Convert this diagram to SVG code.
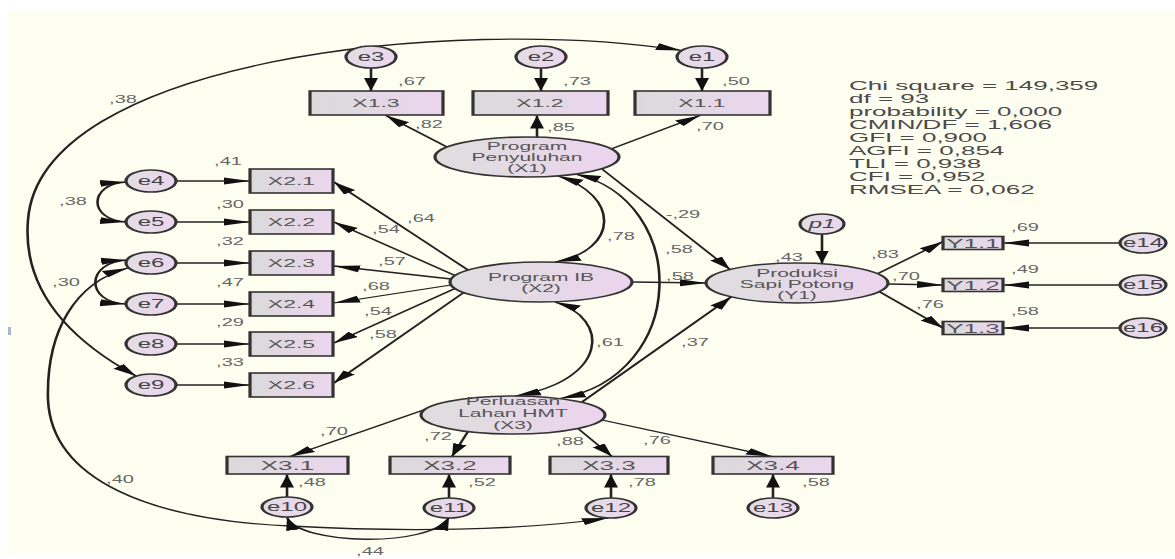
<svg xmlns="http://www.w3.org/2000/svg" width="1175" height="559" viewBox="0 0 1175 559">
<style>
text{font-family:"Liberation Sans",Arial,sans-serif}
.box{fill:url(#gBox);stroke:#333;stroke-width:1.6}
.lat{fill:url(#gLat);stroke:#333;stroke-width:1.6}
.err{fill:url(#gErr);stroke:#333;stroke-width:1.6}
.c{fill:none;stroke:#222;stroke-width:1.3}
.a{marker-end:url(#ah)}
.b{marker-start:url(#ah);marker-end:url(#ah)}
.nt{font-size:10.5px;fill:#555;text-anchor:middle}
.bt{font-size:11.5px;fill:#555;text-anchor:middle}
.bt2{font-size:13px;fill:#555;text-anchor:middle}
.et{font-size:12px;fill:#444;text-anchor:middle}
.lbl{font-size:10px;fill:#666;text-anchor:middle}
.st{font-size:13px;fill:#4a4a4a}
</style>
<defs>
<linearGradient id="gBox" x1="0" y1="0" x2="1" y2="0"><stop offset="0" stop-color="#dadada"/><stop offset="1" stop-color="#ecd6ee"/></linearGradient>
<linearGradient id="gLat" x1="0" y1="0" x2="1" y2="0"><stop offset="0" stop-color="#dedede"/><stop offset="1" stop-color="#ecd4ee"/></linearGradient>
<linearGradient id="gErr" x1="0" y1="0" x2="1" y2="0"><stop offset="0" stop-color="#e2dde4"/><stop offset="1" stop-color="#ecd6ee"/></linearGradient>
<marker id="ah" markerUnits="userSpaceOnUse" markerWidth="13" markerHeight="8" refX="13" refY="3.5" orient="auto-start-reverse" viewBox="0 0 13 7"><path d="M0,0 L13,3.5 L0,7 z" fill="#111"/></marker>
</defs>
<rect x="8" y="11" width="1167" height="542" fill="#fefef0"/>
<rect x="8" y="327" width="3" height="8" fill="#a8b8d0"/>
<g transform="scale(2,1)">
<g id="connectors">
<path class="c a" d="M185.5,68 V91"/>
<path class="c a" d="M270.5,68 V91"/>
<path class="c a" d="M351,68 V91"/>
<path class="c a" d="M223.5,147 L193,115.5"/>
<path class="c a" d="M268.5,137.5 V115.5"/>
<path class="c a" d="M305.5,149 L350,115.5"/>
<path class="c a" d="M234,270 L167,182"/>
<path class="c a" d="M227.5,275.5 L167,222"/>
<path class="c a" d="M225.5,279 L167,266"/>
<path class="c a" d="M225.5,285 L167,303"/>
<path class="c a" d="M227.5,288.5 L167,343"/>
<path class="c a" d="M232.5,291.6 L167,383"/>
<path class="c a" d="M88,181 H125"/>
<path class="c a" d="M88,222 H125"/>
<path class="c a" d="M88,263 H125"/>
<path class="c a" d="M88,304 H125"/>
<path class="c a" d="M88,344 H125"/>
<path class="c a" d="M88,385 H125"/>
<path class="c b" d="M63,182 C 44,184 44,220 63,222"/>
<path class="c b" d="M63.5,260 C 43,262 42,302 63,304"/>
<path class="c b" d="M341,50.5 C 225,15 20,60 14,220 C 11,290 35,340 68,376"/>
<path class="c b" d="M64,268 C 38,282 23,330 24,400 C 26,480 75,520 145,526 C 200,532 260,531 304,518"/>
<path class="c b" d="M143.5,517.5 C 150,545 215,548 224.5,517.5"/>
<path class="c b" d="M279,176 C 310,195 310,250 277.5,262"/>
<path class="c b" d="M287.5,174 C 345,200 345,375 280,398.5"/>
<path class="c b" d="M277.5,302 C 305,318 305,380 257.5,396"/>
<path class="c a" d="M301,169 L365,269.5"/>
<path class="c a" d="M316,282 L353,283"/>
<path class="c a" d="M291,402 L365.5,297"/>
<path class="c a" d="M411,234 L411,263.5"/>
<path class="c a" d="M439,273.5 L471.5,241.5"/>
<path class="c a" d="M444,284 L471.5,285"/>
<path class="c a" d="M440,292 L471.5,328"/>
<path class="c a" d="M560,243 L501.5,243"/>
<path class="c a" d="M560,285 L501.5,285"/>
<path class="c a" d="M560,328 L501.5,328"/>
<path class="c a" d="M143.5,497 V474.5"/>
<path class="c a" d="M224.5,498 V474.5"/>
<path class="c a" d="M305.5,498 V474.5"/>
<path class="c a" d="M386.5,498 V474.5"/>
<path class="c a" d="M212.5,409.5 L145,456.5"/>
<path class="c a" d="M234,431.5 L226,456.5"/>
<path class="c a" d="M289,428.5 L306,456.5"/>
<path class="c a" d="M301,420 L386,456.5"/>
</g>
<g id="e3"><ellipse class="err" cx="185.5" cy="57" rx="12.5" ry="11"/><text class="et" x="185.5" y="61.5">e3</text></g>
<g id="e2"><ellipse class="err" cx="270.5" cy="57" rx="12.5" ry="11"/><text class="et" x="270.5" y="61.5">e2</text></g>
<g id="e1"><ellipse class="err" cx="351" cy="57" rx="12.5" ry="11"/><text class="et" x="351" y="61.5">e1</text></g>
<g id="X1.3"><rect class="box" x="155" y="91" width="66.5" height="24"/><text class="bt" x="188" y="107">X1.3</text></g>
<g id="X1.2"><rect class="box" x="236.5" y="91" width="67.5" height="24"/><text class="bt" x="270" y="107">X1.2</text></g>
<g id="X1.1"><rect class="box" x="317.5" y="91" width="67.5" height="24"/><text class="bt" x="351" y="107">X1.1</text></g>
<g id="X1"><ellipse class="lat" cx="263.5" cy="157" rx="46" ry="20"/><text class="nt" x="263.5" y="150.5">Program</text><text class="nt" x="263.5" y="161.5">Penyuluhan</text><text class="nt" x="263.5" y="172">(X1)</text></g>
<g id="X2"><ellipse class="lat" cx="270.5" cy="282" rx="45.5" ry="20"/><text class="nt" x="270.5" y="281">Program IB</text><text class="nt" x="270.5" y="292">(X2)</text></g>
<g id="Y1"><ellipse class="lat" cx="398.5" cy="283" rx="45.5" ry="20"/><text class="nt" x="398.5" y="277">Produksi</text><text class="nt" x="398.5" y="288">Sapi Potong</text><text class="nt" x="398.5" y="299">(Y1)</text></g>
<g id="X3"><ellipse class="lat" cx="256.5" cy="415" rx="46" ry="19"/><text class="nt" x="256.5" y="405.5">Perluasan</text><text class="nt" x="256.5" y="417.5">Lahan HMT</text><text class="nt" x="256.5" y="429">(X3)</text></g>
<g id="p1"><ellipse class="err" cx="411" cy="224" rx="11" ry="10"/><text class="et" x="411" y="228.5" font-style="italic">p1</text></g>
<g id="e4"><ellipse class="err" cx="75.5" cy="181" rx="12.5" ry="11"/><text class="et" x="75.5" y="185.5">e4</text></g>
<g id="e5"><ellipse class="err" cx="75.5" cy="222" rx="12.5" ry="11"/><text class="et" x="75.5" y="226.5">e5</text></g>
<g id="e6"><ellipse class="err" cx="75.5" cy="263" rx="12.5" ry="11"/><text class="et" x="75.5" y="267.5">e6</text></g>
<g id="e7"><ellipse class="err" cx="75.5" cy="304" rx="12.5" ry="11"/><text class="et" x="75.5" y="308.5">e7</text></g>
<g id="e8"><ellipse class="err" cx="75.5" cy="344" rx="12.5" ry="11"/><text class="et" x="75.5" y="348.5">e8</text></g>
<g id="e9"><ellipse class="err" cx="75.5" cy="385" rx="12.5" ry="11"/><text class="et" x="75.5" y="389.5">e9</text></g>
<g id="X2.1"><rect class="box" x="125" y="169" width="41.5" height="24"/><text class="bt" x="145.75" y="185">X2.1</text></g>
<g id="X2.2"><rect class="box" x="125" y="210" width="41.5" height="24"/><text class="bt" x="145.75" y="226">X2.2</text></g>
<g id="X2.3"><rect class="box" x="125" y="251" width="41.5" height="24"/><text class="bt" x="145.75" y="267">X2.3</text></g>
<g id="X2.4"><rect class="box" x="125" y="292" width="41.5" height="24"/><text class="bt" x="145.75" y="308">X2.4</text></g>
<g id="X2.5"><rect class="box" x="125" y="332" width="41.5" height="24"/><text class="bt" x="145.75" y="348">X2.5</text></g>
<g id="X2.6"><rect class="box" x="125" y="373" width="41.5" height="24"/><text class="bt" x="145.75" y="389.5" font-size="12.5px">X2.6</text></g>
<g id="X3.1"><rect class="box" x="113.5" y="456.5" width="60.5" height="17.5"/><text class="bt2" x="143.75" y="470">X3.1</text></g>
<g id="X3.2"><rect class="box" x="195" y="456.5" width="60" height="17.5"/><text class="bt2" x="225" y="470">X3.2</text></g>
<g id="X3.3"><rect class="box" x="275" y="456.5" width="59" height="17.5"/><text class="bt2" x="304.5" y="470">X3.3</text></g>
<g id="X3.4"><rect class="box" x="356.5" y="456.5" width="60" height="17.5"/><text class="bt2" x="386.5" y="470">X3.4</text></g>
<g id="e10"><ellipse class="err" cx="143.5" cy="507" rx="12.5" ry="10"/><text class="et" x="143.5" y="511.5">e10</text></g>
<g id="e11"><ellipse class="err" cx="224.5" cy="508" rx="12.5" ry="10"/><text class="et" x="224.5" y="512.5">e11</text></g>
<g id="e12"><ellipse class="err" cx="305.5" cy="508" rx="12.5" ry="10"/><text class="et" x="305.5" y="512.5">e12</text></g>
<g id="e13"><ellipse class="err" cx="386.5" cy="508" rx="12.5" ry="10"/><text class="et" x="386.5" y="512.5">e13</text></g>
<g id="Y1.1"><rect class="box" x="471.5" y="236.5" width="30" height="13"/><text class="bt2" x="486.5" y="248">Y1.1</text></g>
<g id="Y1.2"><rect class="box" x="471.5" y="278.5" width="30" height="13"/><text class="bt2" x="486.5" y="290">Y1.2</text></g>
<g id="Y1.3"><rect class="box" x="471.5" y="321.5" width="30" height="13"/><text class="bt2" x="486.5" y="333">Y1.3</text></g>
<g id="e14"><ellipse class="err" cx="571.5" cy="243" rx="11.5" ry="10"/><text class="et" x="571.5" y="247.5">e14</text></g>
<g id="e15"><ellipse class="err" cx="571.5" cy="285" rx="11.5" ry="10"/><text class="et" x="571.5" y="289.5">e15</text></g>
<g id="e16"><ellipse class="err" cx="571.5" cy="328" rx="11.5" ry="10"/><text class="et" x="571.5" y="332.5">e16</text></g>
<g id="labels">
<text class="lbl" x="61.5" y="103.5">,38</text>
<text class="lbl" x="36.5" y="205.5">,38</text>
<text class="lbl" x="33" y="286.5">,30</text>
<text class="lbl" x="60" y="483.5">,40</text>
<text class="lbl" x="185" y="555">,44</text>
<text class="lbl" x="114" y="165.5">,41</text>
<text class="lbl" x="115" y="208.5">,30</text>
<text class="lbl" x="115" y="245.5">,32</text>
<text class="lbl" x="115" y="286.5">,47</text>
<text class="lbl" x="115" y="326.5">,29</text>
<text class="lbl" x="115" y="366.5">,33</text>
<text class="lbl" x="206" y="85.5">,67</text>
<text class="lbl" x="288.5" y="85.5">,73</text>
<text class="lbl" x="368" y="85.5">,50</text>
<text class="lbl" x="214.5" y="128.5">,82</text>
<text class="lbl" x="280.5" y="131.5">,85</text>
<text class="lbl" x="355" y="130.5">,70</text>
<text class="lbl" x="210.5" y="222.5">,64</text>
<text class="lbl" x="193" y="233.5">,54</text>
<text class="lbl" x="196" y="265.5">,57</text>
<text class="lbl" x="188" y="290.5">,68</text>
<text class="lbl" x="189" y="315.5">,54</text>
<text class="lbl" x="191.5" y="338.5">,58</text>
<text class="lbl" x="310.5" y="240.5">,78</text>
<text class="lbl" x="339.5" y="253.5">,58</text>
<text class="lbl" x="305" y="346.5">,61</text>
<text class="lbl" x="341.5" y="218.5">-,29</text>
<text class="lbl" x="340" y="280">,58</text>
<text class="lbl" x="347.5" y="346.5">,37</text>
<text class="lbl" x="394.5" y="261.5">,43</text>
<text class="lbl" x="442.5" y="258.5">,83</text>
<text class="lbl" x="453" y="280.5">,70</text>
<text class="lbl" x="465" y="308.5">,76</text>
<text class="lbl" x="512.5" y="231.5">,69</text>
<text class="lbl" x="512.5" y="273.5">,49</text>
<text class="lbl" x="512.5" y="315.5">,58</text>
<text class="lbl" x="167" y="435.5">,70</text>
<text class="lbl" x="219" y="440.5">,72</text>
<text class="lbl" x="285" y="445.5">,88</text>
<text class="lbl" x="328.5" y="444.5">,76</text>
<text class="lbl" x="156" y="486.5">,48</text>
<text class="lbl" x="241" y="486.5">,52</text>
<text class="lbl" x="321" y="486.5">,78</text>
<text class="lbl" x="408" y="486.5">,58</text>
</g>
<g id="fit-stats">
<text class="st" x="424.5" y="90">Chi square = 149,359</text>
<text class="st" x="424.5" y="103">df = 93</text>
<text class="st" x="424.5" y="116">probability = 0,000</text>
<text class="st" x="424.5" y="129">CMIN/DF = 1,606</text>
<text class="st" x="424.5" y="142">GFI = 0,900</text>
<text class="st" x="424.5" y="155">AGFI = 0,854</text>
<text class="st" x="424.5" y="168">TLI = 0,938</text>
<text class="st" x="424.5" y="181">CFI = 0,952</text>
<text class="st" x="424.5" y="194">RMSEA = 0,062</text>
</g>
</g>
</svg>
